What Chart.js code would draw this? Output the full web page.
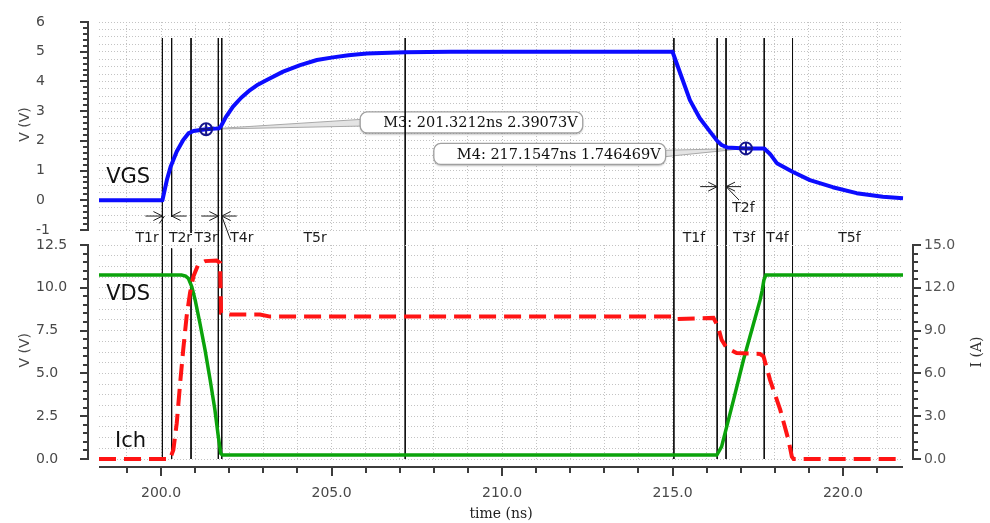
<!DOCTYPE html>
<html><head><meta charset="utf-8">
<script src="https://cdn.jsdelivr.net/npm/chart.js@4.4.1/dist/chart.umd.min.js"></script>
<style>
html,body{margin:0;padding:0;background:#fff;}
#wrap{position:relative;width:990px;height:523px;overflow:hidden;}
canvas{position:absolute;left:0;top:0;}
</style></head><body>
<div id="wrap"><canvas id="topc" width="990" height="523"></canvas><canvas id="botc" width="990" height="523"></canvas></div>
<script>
// ---------------- data ----------------
const timeMin = 198.18, timeMax = 221.76;

const vgsTime = [198.18, 200.04, 200.17, 200.28, 200.46, 200.65, 200.80, 200.95, 201.32, 201.70, 201.76, 201.90, 202.11, 202.35, 202.61, 202.85, 203.10, 203.58, 204.08, 204.57, 205.04, 205.50, 206.03, 207.16, 208.50, 215.00, 215.25, 215.51, 215.80, 216.10, 216.31, 216.44, 216.60, 217.15, 217.69, 217.86, 218.06, 218.52, 219.03, 219.70, 220.40, 221.17, 221.76];
const vgsVolt = [0, 0, 0.68, 1.13, 1.64, 2.03, 2.25, 2.33, 2.39, 2.42, 2.50, 2.80, 3.15, 3.45, 3.71, 3.90, 4.05, 4.33, 4.55, 4.72, 4.81, 4.88, 4.94, 4.98, 5.00, 5.00, 4.20, 3.37, 2.76, 2.31, 2.00, 1.86, 1.78, 1.746, 1.745, 1.56, 1.25, 0.96, 0.68, 0.44, 0.24, 0.12, 0.07];

const vdsTime = [198.18, 200.60, 200.72, 200.80, 200.90, 201.00, 201.14, 201.29, 201.44, 201.58, 201.68, 201.75, 201.80, 216.30, 216.44, 216.59, 216.79, 217.08, 217.38, 217.57, 217.63, 217.68, 217.74, 221.76];
const vdsVolt = [10.75, 10.75, 10.68, 10.55, 10.07, 9.29, 7.93, 6.37, 4.61, 2.86, 1.30, 0.33, 0.23, 0.23, 0.72, 1.89, 3.45, 5.78, 7.93, 9.29, 9.85, 10.45, 10.75, 10.75];

const ichTime = [198.18, 200.26, 200.36, 200.46, 200.56, 200.65, 200.75, 200.85, 200.95, 201.09, 201.29, 201.63, 201.73, 201.76, 202.02, 202.90, 203.20, 215.00, 215.05, 216.20, 216.33, 216.44, 216.59, 216.88, 217.57, 217.67, 217.86, 218.16, 218.40, 218.50, 218.55, 221.76];
const ichAmp = [0, 0, 0.63, 2.51, 5.32, 7.66, 10.00, 11.65, 12.81, 13.63, 13.87, 13.91, 13.75, 10.24, 10.12, 10.12, 9.98, 9.98, 9.80, 9.89, 9.30, 8.36, 7.78, 7.43, 7.36, 7.19, 5.55, 3.44, 1.34, 0.16, 0, 0];

const cursorTimes = [200.04, 200.31, 200.88, 201.68, 201.78, 207.16, 215.04, 216.31, 216.57, 217.69, 218.52];

const markerNames = ['M3', 'M4'];
const markerTimes = [201.3212, 217.1547];
const markerValues = [2.39073, 1.746469];

const phaseNames = ['T1r', 'T2r', 'T3r', 'T4r', 'T5r', 'T1f', 'T2f', 'T3f', 'T4f', 'T5f'];
const phaseTimes = [199.59, 200.57, 201.32, 202.37, 204.52, 215.63, 217.08, 217.10, 218.08, 220.19];

const xTickLabels = [200, 205, 210, 215, 220];
const vgsTickLabels = [-1, 0, 1, 2, 3, 4, 5, 6];
const vdsTickLabels = [0, 2.5, 5, 7.5, 10, 12.5];
const ichTickLabels = [0, 3, 6, 9, 12, 15];

// ---------------- layout / style (not data) ----------------
const phaseLabelV = {T2f: -0.27};
const phaseRowV = -1.28;
const arrowPairs = [ {a: 0, b: 1, v: -0.53}, {a: 3, b: 4, v: -0.53}, {a: 7, b: 8, v: 0.46} ]; // indices into cursorTimes
const leaders = [ [200.10, -0.53, 199.95, -0.78], [201.78, -0.53, 202.04, -1.34], [216.57, 0.46, 216.95, 0.01] ];
const markerBoxes = [ {t: 205.84, v: 2.62, side: 'left'}, {t: 208.0, v: 1.56, side: 'right'} ];

Chart.defaults.font.family = '"DejaVu Sans", sans-serif';
Chart.defaults.font.size = 14;
Chart.defaults.color = '#484848';

const axisColor = '#3c3c3c';
const gridStyle = {color: '#c3c3c3', lineWidth: 1, drawTicks: false};
const gridBorder = {display: false, dash: [1, 2]};
const pts = (xs, ys) => xs.map((t, i) => ({x: t, y: ys[i]}));

function drawYAxis(ctx, sc, xLine, side, majorStep, minorStep, majorLen, minorLen) {
  const min = sc.min, max = sc.max;
  const yA = sc.getPixelForValue(min), yB = sc.getPixelForValue(max);
  ctx.save();
  ctx.strokeStyle = axisColor; ctx.lineWidth = 2; ctx.setLineDash([]);
  ctx.beginPath(); ctx.moveTo(xLine, yA + 1); ctx.lineTo(xLine, yB - 1); ctx.stroke();
  const n = Math.round((max - min) / minorStep);
  for (let i = 0; i <= n; i++) {
    const v = min + i * minorStep;
    const r = v / majorStep;
    const L = Math.abs(r - Math.round(r)) < 1e-6 ? majorLen : minorLen;
    const y = Math.round(sc.getPixelForValue(v));
    ctx.beginPath(); ctx.moveTo(xLine, y); ctx.lineTo(xLine + side * L, y); ctx.stroke();
  }
  ctx.restore();
}
function drawXAxis(ctx, sc, yLine, majorStep, minorStep, majorLen, minorLen) {
  const xA = sc.getPixelForValue(sc.min), xB = sc.getPixelForValue(sc.max);
  ctx.save();
  ctx.strokeStyle = axisColor; ctx.lineWidth = 2; ctx.setLineDash([]);
  ctx.beginPath(); ctx.moveTo(xA, yLine); ctx.lineTo(xB, yLine); ctx.stroke();
  for (let v = Math.ceil(sc.min / minorStep) * minorStep; v <= sc.max; v += minorStep) {
    const r = v / majorStep;
    const L = Math.abs(r - Math.round(r)) < 1e-6 ? majorLen : minorLen;
    const x = Math.round(sc.getPixelForValue(v));
    ctx.beginPath(); ctx.moveTo(x, yLine); ctx.lineTo(x, yLine + L); ctx.stroke();
  }
  ctx.restore();
}
function rotText(ctx, text, x, y, font, color) {
  ctx.save(); ctx.translate(x, y); ctx.rotate(-Math.PI / 2);
  ctx.font = font; ctx.fillStyle = color; ctx.textAlign = 'center'; ctx.textBaseline = 'middle';
  ctx.fillText(text, 0, 0); ctx.restore();
}
function arrowTo(ctx, x1, y, x2) {
  const d = Math.sign(x2 - x1);
  ctx.beginPath(); ctx.moveTo(x1, y); ctx.lineTo(x2, y);
  ctx.moveTo(x2 - d * 9, y - 4.5); ctx.lineTo(x2, y); ctx.lineTo(x2 - d * 9, y + 4.5);
  ctx.stroke();
}
function roundRect(ctx, x, y, w, h, r) {
  ctx.beginPath();
  ctx.moveTo(x + r, y); ctx.lineTo(x + w - r, y); ctx.arcTo(x + w, y, x + w, y + r, r);
  ctx.lineTo(x + w, y + h - r); ctx.arcTo(x + w, y + h, x + w - r, y + h, r);
  ctx.lineTo(x + r, y + h); ctx.arcTo(x, y + h, x, y + h - r, r);
  ctx.lineTo(x, y + r); ctx.arcTo(x, y, x + r, y, r); ctx.closePath();
}

const topDecor = {
  id: 'topDecor',
  beforeDatasetsDraw(chart) {
    const {ctx, scales: {x, y}} = chart;
    ctx.save();
    ctx.font = '14.5px "DejaVu Serif", serif';
    markerBoxes.forEach((b, i) => {
      const text = markerNames[i] + ': ' + markerTimes[i] + 'ns ' + markerValues[i] + 'V';
      const tw = ctx.measureText(text).width;
      const w = tw + 28, h = 21;
      const bx = x.getPixelForValue(b.t);
      const cy = y.getPixelForValue(b.v);
      const mx = x.getPixelForValue(markerTimes[i]), my = y.getPixelForValue(markerValues[i]);
      const ax = b.side === 'left' ? bx + 8 : bx + w - 8;
      ctx.beginPath(); ctx.moveTo(mx, my); ctx.lineTo(ax, cy - 3.5); ctx.lineTo(ax, cy + 3.5); ctx.closePath();
      ctx.fillStyle = '#e4e4e4'; ctx.fill();
      ctx.strokeStyle = '#a9a9a9'; ctx.lineWidth = 1; ctx.stroke();
      ctx.save();
      ctx.shadowColor = 'rgba(0,0,0,0.28)'; ctx.shadowOffsetY = 1.5; ctx.shadowBlur = 2;
      roundRect(ctx, bx, cy - h / 2, w, h, 7);
      ctx.fillStyle = '#ffffff'; ctx.fill();
      ctx.restore();
      roundRect(ctx, bx, cy - h / 2, w, h, 7);
      ctx.strokeStyle = '#a0a0a0'; ctx.lineWidth = 1.3; ctx.stroke();
      ctx.fillStyle = '#111'; ctx.textAlign = 'left'; ctx.textBaseline = 'middle';
      ctx.fillText(text, bx + 23, cy + 1);
    });
    ctx.restore();
  },
  afterDraw(chart) {
    const {ctx, chartArea, scales: {x, y}} = chart;
    drawYAxis(ctx, y, chartArea.left - 11, -1, 1, 0.2, 8, 5);
    ctx.save();
    ctx.strokeStyle = '#1e1e1e'; ctx.lineWidth = 1; ctx.setLineDash([]);
    arrowPairs.forEach(p => {
      const yy = y.getPixelForValue(p.v);
      const xa = x.getPixelForValue(cursorTimes[p.a]), xb = x.getPixelForValue(cursorTimes[p.b]);
      arrowTo(ctx, xa - 17, yy, xa);
      arrowTo(ctx, xb + 15, yy, xb);
    });
    leaders.forEach(l => {
      ctx.beginPath();
      ctx.moveTo(x.getPixelForValue(l[0]), y.getPixelForValue(l[1]));
      ctx.lineTo(x.getPixelForValue(l[2]), y.getPixelForValue(l[3]));
      ctx.stroke();
    });
    ctx.font = '14px "DejaVu Sans", sans-serif'; ctx.fillStyle = '#1c1c1c';
    ctx.textAlign = 'center'; ctx.textBaseline = 'middle';
    phaseNames.forEach((n, i) => {
      const v = phaseLabelV[n] !== undefined ? phaseLabelV[n] : phaseRowV;
      ctx.fillText(n, x.getPixelForValue(phaseTimes[i]), y.getPixelForValue(v));
    });
    ctx.font = '21px "DejaVu Sans", sans-serif'; ctx.fillStyle = '#111'; ctx.textAlign = 'left';
    ctx.fillText('VGS', x.getPixelForValue(198.39), y.getPixelForValue(0.75));
    ctx.restore();
    rotText(ctx, 'V (V)', 25, (y.getPixelForValue(2.7) + y.getPixelForValue(2.4)) / 2, '14px "DejaVu Sans", sans-serif', '#484848');
  }
};

const botDecor = {
  id: 'botDecor',
  afterDraw(chart) {
    const {ctx, chartArea, scales: {x, y, y2}} = chart;
    drawYAxis(ctx, y, chartArea.left - 11, -1, 2.5, 0.5, 8, 5);
    drawYAxis(ctx, y2, chartArea.right + 10, 1, 3, 0.6, 8, 5);
    drawXAxis(ctx, x, chartArea.bottom + 8, 5, 1, 9, 6);
    ctx.save();
    ctx.font = '21px "DejaVu Sans", sans-serif'; ctx.fillStyle = '#111';
    ctx.textAlign = 'left'; ctx.textBaseline = 'middle';
    ctx.fillText('VDS', x.getPixelForValue(198.39), y.getPixelForValue(9.58));
    ctx.fillText('Ich', x.getPixelForValue(198.65), y.getPixelForValue(1.02));
    ctx.font = '14px "DejaVu Serif", serif'; ctx.fillStyle = '#222'; ctx.textAlign = 'center';
    ctx.fillText('time (ns)', (chartArea.left + chartArea.right) / 2, 514);
    ctx.restore();
    rotText(ctx, 'V (V)', 25, y.getPixelForValue(6.35), '14px "DejaVu Sans", sans-serif', '#484848');
    rotText(ctx, 'I (A)', 977, y.getPixelForValue(6.25), '14px "DejaVu Serif", serif', '#333');
  }
};

const baseOpts = {
  responsive: false, animation: false, devicePixelRatio: 1,
  plugins: {legend: {display: false}, tooltip: {enabled: false}},
  elements: {point: {radius: 0}, line: {tension: 0}}
};

const cursorTopEnds = {1: -0.56, 2: -1.1};
const cursorDs = (lo, hiFn) => cursorTimes.map((t, i) => ({
  data: [{x: t, y: hiFn(i)}, {x: t, y: lo(i)}], borderColor: '#0d0d0d', borderWidth: 1,
  pointRadius: 0, clip: false, order: 10
}));

new Chart(document.getElementById('topc'), {
  type: 'line',
  data: {datasets: [
    ...cursorDs(i => (cursorTopEnds[i] !== undefined ? cursorTopEnds[i] : -1.62), i => 5.46),
    {label: 'VGS', data: pts(vgsTime, vgsVolt), borderColor: '#0c0cff', borderWidth: 4, pointRadius: 0, clip: false, order: 2, borderJoinStyle: 'round'},
    {label: 'markers', data: pts(markerTimes, markerValues), showLine: false, pointStyle: 'circle', pointRadius: 6, pointBorderWidth: 2, pointBorderColor: '#16168c', pointBackgroundColor: 'rgba(0,0,0,0)', clip: false, order: 0},
    {label: 'markerCross', data: pts(markerTimes, markerValues), showLine: false, pointStyle: 'cross', pointRadius: 6, pointBorderWidth: 2, pointBorderColor: '#16168c', clip: false, order: 0}
  ]},
  options: Object.assign({}, baseOpts, {
    layout: {padding: {left: 36, right: 87, top: 22, bottom: 293}},
    scales: {
      x: {type: 'linear', min: timeMin, max: timeMax, position: 'bottom', afterFit: s => { s.height = 0; },
          ticks: {display: false, stepSize: 1, autoSkip: false, includeBounds: false}, grid: gridStyle, border: gridBorder},
      y: {type: 'linear', min: -1, max: 6, position: 'left', afterFit: s => { s.width = 63; },
          ticks: {stepSize: 0.25, autoSkip: false, includeBounds: false, crossAlign: 'far',
                  callback: v => vgsTickLabels.includes(v) ? String(v) : ''},
          grid: gridStyle, border: gridBorder}
    }
  }),
  plugins: [topDecor]
});

new Chart(document.getElementById('botc'), {
  type: 'line',
  data: {datasets: [
    ...cursorDs(i => 0, i => 12.3),
    {label: 'VDS', data: pts(vdsTime, vdsVolt), yAxisID: 'y', borderColor: '#0ba30b', borderWidth: 3.5, pointRadius: 0, clip: false, order: 2},
    {label: 'Ich', data: pts(ichTime, ichAmp), yAxisID: 'y2', borderColor: '#ff1414', borderWidth: 4, borderDash: [17, 8], borderCapStyle: 'butt', pointRadius: 0, clip: false, order: 1}
  ]},
  options: Object.assign({}, baseOpts, {
    layout: {padding: {left: 36, right: 0, top: 245, bottom: 0}},
    scales: {
      x: {type: 'linear', min: timeMin, max: timeMax, position: 'bottom', afterFit: s => { s.height = 64; },
          ticks: {stepSize: 1, autoSkip: false, includeBounds: false, maxRotation: 0, padding: 26,
                  callback: v => xTickLabels.includes(v) ? v.toFixed(1) : ''},
          grid: gridStyle, border: gridBorder},
      y: {type: 'linear', min: 0, max: 12.5, position: 'left', afterFit: s => { s.width = 63; },
          ticks: {stepSize: 2.5, autoSkip: false, crossAlign: 'far',
                  callback: v => vdsTickLabels.includes(v) ? v.toFixed(1) : ''},
          grid: {display: false}, border: {display: false}},
      y2: {type: 'linear', min: 0, max: 15, position: 'right', afterFit: s => { s.width = 87; },
          ticks: {stepSize: 0.75, autoSkip: false, includeBounds: false, padding: 21, crossAlign: 'near', color: '#555',
                  callback: v => ichTickLabels.includes(v) ? v.toFixed(1) : ''},
          grid: gridStyle, border: gridBorder}
    }
  }),
  plugins: [botDecor]
});
</script>
</body></html>
